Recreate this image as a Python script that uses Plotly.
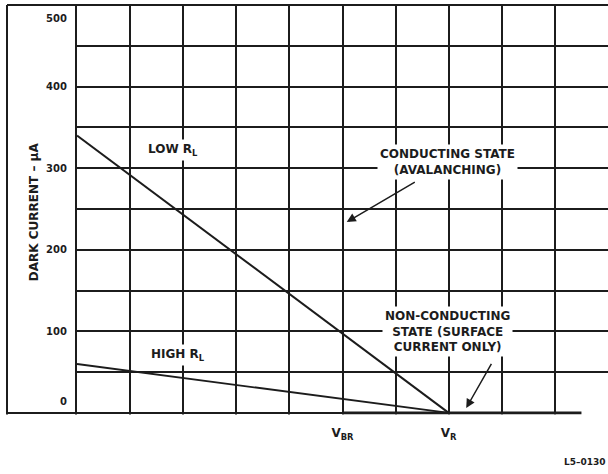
import plotly.graph_objects as go

# ---------------- data ----------------
low_rl_x = [0, 7]
low_rl_y = [340, 0]
high_rl_x = [0, 7]
high_rl_y = [60, 0]
nonconducting_x = [5, 9.5]
nonconducting_y = [0, 0]

x_grid_vals = list(range(0, 11))
x_tick_text = ["", "", "", "", "", "V<sub>BR</sub>", "", "V<sub>R</sub>", "", "", ""]
y_grid_vals = [50, 100, 150, 200, 250, 300, 350, 400, 450, 500]
y_label_vals = [0, 100, 200, 300, 400, 500]
y_label_text = ["0", "100", "200", "300", "400", "500"]

labels = [
    dict(x=1.8, y=322, text="LOW R<sub>L</sub>"),
    dict(x=1.9, y=71, text="HIGH R<sub>L</sub>"),
    dict(x=6.97, y=308, text="CONDUCTING STATE<br>(AVALANCHING)"),
    dict(x=6.97, y=100, text="NON-CONDUCTING<br>STATE (SURFACE<br>CURRENT ONLY)"),
]
arrows = [
    dict(head=(5.08, 234), tail=(6.39, 284)),
    dict(head=(7.33, 6), tail=(7.82, 62)),
]

X_RANGE = [0, 10]
Y_RANGE = [-5, 500]

FONT = "DejaVu Sans"
INK = "#1c1c1c"

fig = go.Figure()
for xs, ys, w in [(low_rl_x, low_rl_y, 2), (high_rl_x, high_rl_y, 1.8),
                  (nonconducting_x, nonconducting_y, 3)]:
    fig.add_trace(go.Scatter(x=xs, y=ys, mode="lines",
                             line=dict(color=INK, width=w), showlegend=False,
                             hoverinfo="skip"))

def ypaper(v):
    return (v - Y_RANGE[0]) / (Y_RANGE[1] - Y_RANGE[0])

def xpaper_px(px, l=77, w=531):
    return (px - l) / w

shapes = [
    # cover gridline stubs below zero
    dict(type="rect", xref="paper", yref="paper", x0=-0.006, x1=1, y0=-0.002,
         y1=ypaper(-1.8), fillcolor="white", line=dict(width=0), layer="above"),
    # outer frame: left, top, bottom
    dict(type="line", xref="paper", yref="paper", x0=xpaper_px(7), x1=xpaper_px(7),
         y0=ypaper(0) - 0.004, y1=1, line=dict(color=INK, width=2)),
    dict(type="line", xref="paper", yref="paper", x0=xpaper_px(7), x1=1,
         y0=1, y1=1, line=dict(color=INK, width=2)),
    dict(type="line", xref="paper", yref="paper", x0=xpaper_px(7), x1=0.5,
         y0=ypaper(0), y1=ypaper(0), line=dict(color=INK, width=2)),
]

ann = []
for v, t in zip(y_label_vals, y_label_text):
    shift = 11 if v == 0 else (-13 if v == Y_RANGE[1] else 0)
    ann.append(dict(xref="paper", yref="y", x=xpaper_px(69), y=v, text=t,
                    showarrow=False, xanchor="right", yanchor="middle", yshift=shift,
                    font=dict(family=FONT, size=10, color=INK, weight="bold")))
for lb in labels:
    ann.append(dict(x=lb["x"], y=lb["y"], text=lb["text"], showarrow=False,
                    bgcolor="white", borderpad=2,
                    font=dict(family=FONT, size=12, color=INK, weight="bold")))
for a in arrows:
    ann.append(dict(x=a["head"][0], y=a["head"][1], ax=a["tail"][0], ay=a["tail"][1],
                    axref="x", ayref="y", text="", showarrow=True,
                    arrowhead=2, arrowsize=1.2, arrowwidth=1.5, arrowcolor=INK))
ann.append(dict(xref="paper", yref="paper", x=xpaper_px(25), y=ypaper(246),
                text="DARK CURRENT \u2013 \u03bcA", textangle=-90, showarrow=False,
                font=dict(family=FONT, size=12, color=INK, weight="bold")))
ann.append(dict(xref="paper", yref="paper", x=1.0, y=ypaper(-60), xanchor="right",
                yanchor="middle", text="L5\u20130130", showarrow=False,
                font=dict(family=FONT, size=9, color=INK, weight="bold")))

fig.update_layout(
    width=608, height=474,
    margin=dict(l=77, r=0, t=5, b=57, pad=0),
    paper_bgcolor="white", plot_bgcolor="white",
    shapes=shapes, annotations=ann,
    xaxis=dict(range=X_RANGE, tickvals=x_grid_vals, ticktext=x_tick_text,
               showgrid=True, gridcolor=INK, gridwidth=1.6, zeroline=False,
               showline=False, ticks="", ticklabelstandoff=7,
               tickfont=dict(family=FONT, size=12, color=INK, weight="bold")),
    yaxis=dict(range=Y_RANGE, tickvals=y_grid_vals, showticklabels=False,
               showgrid=True, gridcolor=INK, gridwidth=1.6, zeroline=False,
               showline=True, linecolor=INK, linewidth=1.6, ticks=""),
)

fig.write_html("out.html", config={"displayModeBar": False},
               post_script="document.body.style.margin='0';document.body.style.overflow='hidden';")
